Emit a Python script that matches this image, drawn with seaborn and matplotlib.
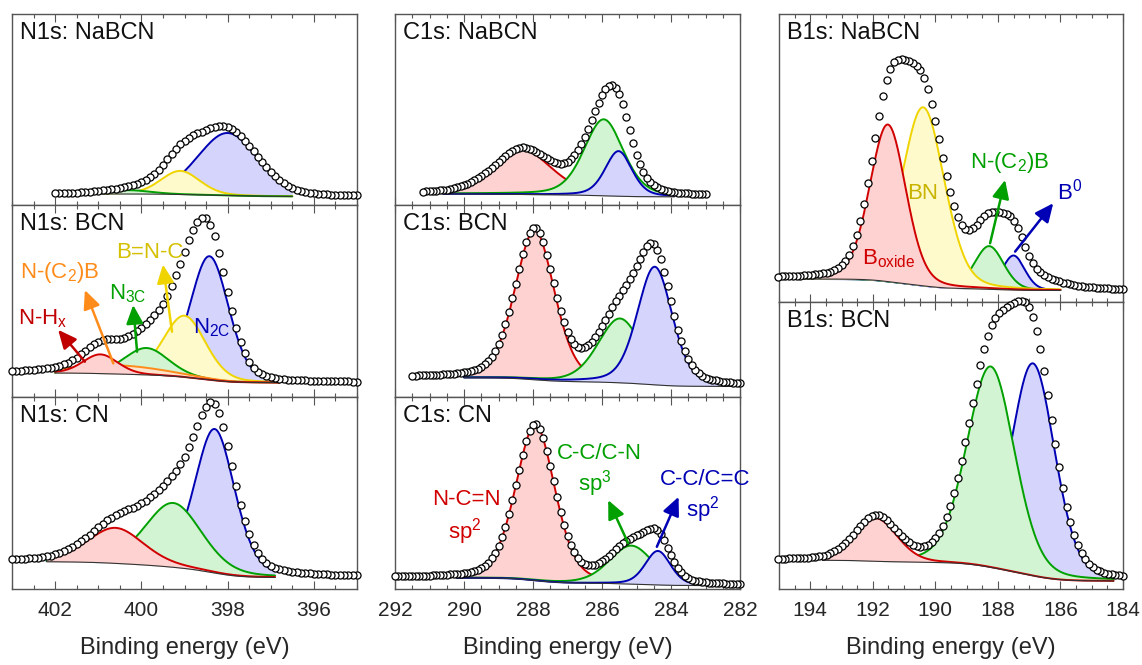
import numpy as np
import pandas as pd
import seaborn as sns
import matplotlib.pyplot as plt
from matplotlib.ticker import MultipleLocator

sns.set_theme(style="white")
plt.rcParams['font.family'] = ['Liberation Sans', 'DejaVu Sans']
plt.rcParams['mathtext.default'] = 'regular'

# line colour, fill colour
palette = {
    'red': ('#d00000', '#ffd2d2'),
    'green': ('#00a000', '#d2f4d2'),
    'blue': ('#0000b4', '#d4d4fc'),
    'yellow': ('#f0d400', '#fffacc'),
    'orange': ('#ff8c1a', '#ffe4cc'),
}

# ---------------- N1s ----------------
n1_nabcn_color = ['blue', 'yellow', 'green']
n1_nabcn_center = [398.0, 399.1, 400.3]
n1_nabcn_height = [0.327, 0.123, 0.02]
n1_nabcn_fwhm = [1.66, 1.07, 1.2]
n1_nabcn_bg = [0.058, 0.045]            # background: high-BE side, low-BE side
n1_nabcn_extra = [[398.8, 0.04, 1.6]]   # signal not covered by the fit

n1_bcn_color = ['blue', 'yellow', 'green', 'orange', 'red']
n1_bcn_center = [398.42, 399.0, 399.88, 400.55, 400.95]
n1_bcn_height = [0.644, 0.32, 0.14, 0.045, 0.10]
n1_bcn_fwhm = [1.05, 1.15, 1.2, 2.6, 0.95]
n1_bcn_bg = [0.125, 0.075]
n1_bcn_extra = []

n1_cn_color = ['blue', 'green', 'red']
n1_cn_center = [398.3, 399.26, 400.6]
n1_cn_height = [0.75, 0.335, 0.185]
n1_cn_fwhm = [1.1, 1.55, 1.55]
n1_cn_bg = [0.142, 0.06]
n1_cn_extra = []

# ---------------- C1s ----------------
c1_nabcn_color = ['red', 'green', 'blue']
c1_nabcn_center = [288.3, 285.95, 285.52]
c1_nabcn_height = [0.233, 0.40, 0.236]
c1_nabcn_fwhm = [2.0, 1.35, 0.92]
c1_nabcn_bg = [0.058, 0.043]
c1_nabcn_extra = []

c1_bcn_color = ['red', 'green', 'blue']
c1_bcn_center = [287.95, 285.48, 284.47]
c1_bcn_height = [0.78, 0.335, 0.615]
c1_bcn_fwhm = [1.35, 1.5, 1.2]
c1_bcn_bg = [0.10, 0.055]
c1_bcn_extra = []

c1_cn_color = ['red', 'green', 'blue']
c1_cn_center = [287.93, 285.15, 284.38]
c1_cn_height = [0.81, 0.2, 0.177]
c1_cn_fwhm = [1.34, 1.5, 0.87]
c1_cn_bg = [0.058, 0.018]
c1_cn_extra = []

# ---------------- B1s ----------------
b1_nabcn_color = ['blue', 'green', 'yellow', 'red']
b1_nabcn_center = [187.5, 188.28, 190.39, 191.52]
b1_nabcn_height = [0.12, 0.15, 0.62, 0.545]
b1_nabcn_fwhm = [0.85, 1.1, 1.6, 1.36]
b1_nabcn_bg = [0.08, 0.04]
b1_nabcn_extra = [[188.0, 0.08, 2.8]]

b1_bcn_color = ['blue', 'green', 'red']
b1_bcn_center = [186.88, 188.23, 191.9]
b1_bcn_height = [0.74, 0.70, 0.15]
b1_bcn_fwhm = [1.65, 1.8, 1.6]
b1_bcn_bg = [0.10, 0.028]
b1_bcn_extra = []

# labels: text, (eV, height), colour
n1_bcn_labels = [
    ('B=N-C', (399.8, 0.755), '#d4c000'),
    ('N-(C$_2$)B', (401.9, 0.65), '#ff8c1a'),
    ('N$_{3C}$', (400.31, 0.54), '#00a000'),
    ('N-H$_x$', (402.3, 0.41), '#c00000'),
    ('N$_{2C}$', (398.36, 0.36), '#0000b4'),
]
n1_bcn_arrows = [
    ((399.29, 0.34), (399.5, 0.69), '#f0d400'),
    ((400.65, 0.175), (401.31, 0.557), '#ff8c1a'),
    ((400.1, 0.236), (400.19, 0.479), '#00a000'),
    ((401.31, 0.184), (401.93, 0.35), '#c00000'),
]
c1_cn_labels = [
    ('N-C=N', (289.94, 0.464), '#d00000'),
    ('sp$^2$', (289.97, 0.30), '#d00000'),
    ('C-C/C-N', (286.09, 0.708), '#00a000'),
    ('sp$^3$', (286.2, 0.55), '#00a000'),
    ('C-C/C=C', (283.01, 0.568), '#0000b4'),
    ('sp$^2$', (283.07, 0.415), '#0000b4'),
]
c1_cn_arrows = [
    ((285.24, 0.238), (285.82, 0.463), '#00a000'),
    ((284.41, 0.22), (283.78, 0.48), '#0000b4'),
]
b1_nabcn_labels = [
    ('B$_{oxide}$', (191.48, 0.15), '#d00000'),
    ('BN', (190.4, 0.378), '#c8b400'),
    ('N-(C$_2$)B', (187.61, 0.486), '#00a000'),
    ('B$^0$', (185.7, 0.385), '#0000b4'),
]
b1_nabcn_arrows = [
    ((188.25, 0.204), (187.77, 0.424), '#00a000'),
    ((187.45, 0.175), (186.23, 0.343), '#0000b4'),
]


def pvoigt(E, c, h, w, eta):
    x = (E - c) / w
    return h * ((1 - eta) * np.exp(-4 * np.log(2) * x ** 2) + eta / (1 + 4 * x ** 2))


W, H = 1142, 665
fig = plt.figure(figsize=(W / 100, H / 100), dpi=100)


def make_ax(x0, x1, y0, y1):
    return fig.add_axes([x0 / W, 1 - y1 / H, (x1 - x0) / W, (y1 - y0) / H])


def draw_panel(ax, title, xlim, data_rng, fit_rng, step, eta,
               colors, centers, heights, fwhms, bg, extra, bottom):
    E = np.round(np.arange(data_rng[1], data_rng[0] + step / 2, step), 3)
    Ef = np.arange(fit_rng[1], fit_rng[0] + 0.01, 0.02)

    def shirley(grid):
        s = sum(pvoigt(grid, c, h, w, eta) for c, h, w in zip(centers, heights, fwhms))
        cum = np.cumsum(s)
        return bg[1] + (bg[0] - bg[1]) * cum / cum[-1], s

    base_f, _ = shirley(Ef)
    base_d, sum_d = shirley(E)
    data = base_d + sum_d
    for c, h, w in extra:
        data = data + pvoigt(E, c, h, w, eta)

    z = 2.0
    for col, c, h, w in zip(colors, centers, heights, fwhms):
        comp = base_f + pvoigt(Ef, c, h, w, eta)
        ax.fill_between(Ef, base_f, comp, color=palette[col][1], lw=0, zorder=z)
        sns.lineplot(x=Ef, y=comp, ax=ax, color=palette[col][0], lw=1.4,
                     sort=False, estimator=None, zorder=z + 0.05)
        z += 0.1
    sns.lineplot(x=Ef, y=base_f, ax=ax, color='#333333', lw=0.8,
                 sort=False, estimator=None, zorder=z)

    df = pd.DataFrame({'E': E, 'I': data})
    sns.scatterplot(data=df, x='E', y='I', ax=ax, s=26, color='white',
                    edgecolor='black', linewidth=0.9, zorder=6, clip_on=False)

    ax.set_xlim(*xlim)
    ax.set_ylim(0, 1)
    ax.set_yticks([])
    ax.set_ylabel('')
    ax.xaxis.set_major_locator(MultipleLocator(2))
    ax.xaxis.set_minor_locator(MultipleLocator(0.5))
    ax.tick_params(axis='x', which='both', direction='in', top=True, bottom=True,
                   color='#555555', width=0.8, labelsize=15, pad=9,
                   labelbottom=bottom)
    ax.tick_params(axis='x', which='major', length=6)
    ax.tick_params(axis='x', which='minor', length=3)
    for sp in ax.spines.values():
        sp.set_color('#555555')
        sp.set_linewidth(1.0)
    if bottom:
        ax.set_xlabel('Binding energy (eV)', fontsize=17, labelpad=12)
    else:
        ax.set_xlabel('')
    ax.annotate(title, xy=(0, 1), xycoords='axes fraction', xytext=(6, -6),
                textcoords='offset points', ha='left', va='top', fontsize=17,
                color='#111111')


def add_labels(ax, labels, arrows):
    for a, b, col in arrows:
        ax.annotate('', xy=b, xytext=a,
                    arrowprops=dict(arrowstyle='-|>,head_length=0.7,head_width=0.32',
                                    color=col, lw=1.8, shrinkA=0, shrinkB=0,
                                    mutation_scale=16), zorder=7)
    for txt, xy, col in labels:
        ax.text(xy[0], xy[1], txt, color=col, fontsize=16, ha='center',
                va='center', zorder=8)


# N1s column
ax = make_ax(12, 357, 14, 205)
draw_panel(ax, 'N1s: NaBCN', (403, 395), (402.0, 395.0), (401.5, 396.5), 0.1, 0.2,
           n1_nabcn_color, n1_nabcn_center, n1_nabcn_height, n1_nabcn_fwhm,
           n1_nabcn_bg, n1_nabcn_extra, False)
ax = make_ax(12, 357, 205, 397)
draw_panel(ax, 'N1s: BCN', (403, 395), (403.0, 395.0), (402.0, 396.8), 0.1, 0.2,
           n1_bcn_color, n1_bcn_center, n1_bcn_height, n1_bcn_fwhm,
           n1_bcn_bg, n1_bcn_extra, False)
add_labels(ax, n1_bcn_labels, n1_bcn_arrows)
ax = make_ax(12, 357, 397, 589)
draw_panel(ax, 'N1s: CN', (403, 395), (403.0, 395.0), (402.2, 396.9), 0.1, 0.3,
           n1_cn_color, n1_cn_center, n1_cn_height, n1_cn_fwhm,
           n1_cn_bg, n1_cn_extra, True)

# C1s column
ax = make_ax(395, 740, 14, 205)
draw_panel(ax, 'C1s: NaBCN', (292, 282), (291.2, 283.0), (290.6, 283.9), 0.1, 0.35,
           c1_nabcn_color, c1_nabcn_center, c1_nabcn_height, c1_nabcn_fwhm,
           c1_nabcn_bg, c1_nabcn_extra, False)
ax = make_ax(395, 740, 205, 397)
draw_panel(ax, 'C1s: BCN', (292, 282), (291.5, 282.0), (290.0, 282.2), 0.1, 0.3,
           c1_bcn_color, c1_bcn_center, c1_bcn_height, c1_bcn_fwhm,
           c1_bcn_bg, c1_bcn_extra, False)
ax = make_ax(395, 740, 397, 589)
draw_panel(ax, 'C1s: CN', (292, 282), (292.0, 282.0), (290.2, 283.0), 0.1, 0.3,
           c1_cn_color, c1_cn_center, c1_cn_height, c1_cn_fwhm,
           c1_cn_bg, c1_cn_extra, True)
add_labels(ax, c1_cn_labels, c1_cn_arrows)

# B1s column
ax = make_ax(779, 1123, 14, 302)
draw_panel(ax, 'B1s: NaBCN', (195, 184), (195.0, 184.0), (195.0, 186.0), 0.12, 0.2,
           b1_nabcn_color, b1_nabcn_center, b1_nabcn_height, b1_nabcn_fwhm,
           b1_nabcn_bg, b1_nabcn_extra, False)
add_labels(ax, b1_nabcn_labels, b1_nabcn_arrows)
ax = make_ax(779, 1123, 302, 589)
draw_panel(ax, 'B1s: BCN', (195, 184), (195.0, 184.0), (193.6, 184.3), 0.12, 0.2,
           b1_bcn_color, b1_bcn_center, b1_bcn_height, b1_bcn_fwhm,
           b1_bcn_bg, b1_bcn_extra, True)

fig.savefig('out.png', dpi=100)
